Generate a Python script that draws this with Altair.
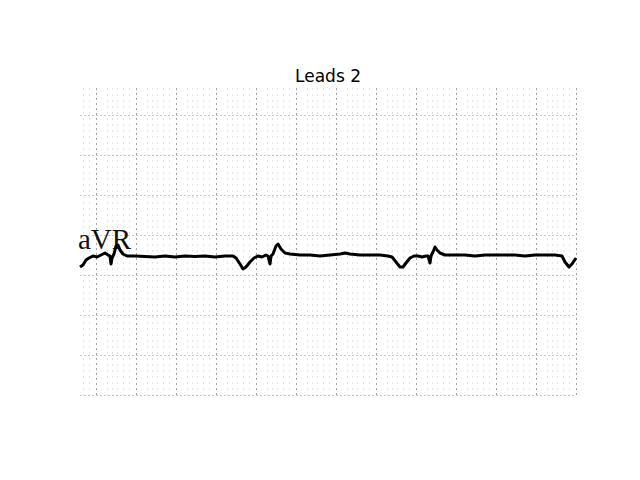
import altair as alt
import pandas as pd

# ECG trace (scan pixel coordinates: x to the right, y downward)
trace_x = [0, 3, 6, 9, 13, 17, 21, 25, 28, 30, 31, 32, 34, 36, 38, 40, 43, 47, 55, 65,
           75, 85, 95, 105, 115, 125, 135, 145, 153, 156, 160, 163, 166, 170, 174, 178,
           182, 186, 188, 190, 191, 193, 196, 198, 201, 205, 210, 220, 230, 240, 250,
           260, 265, 270, 280, 290, 300, 308, 312, 316, 320, 323, 326, 330, 334, 338,
           342, 346, 348, 350, 351, 353, 355, 357, 360, 365, 375, 385, 395, 405, 415,
           425, 435, 445, 455, 465, 475, 482, 485, 489, 492, 496]
trace_y = [179, 177, 172, 170, 168, 169, 167, 165, 167, 168, 176, 170, 166, 158, 157,
           162, 166, 168, 168, 168.5, 169, 168, 169, 168, 168.5, 168, 169, 168, 168,
           170, 176, 181, 179, 174, 170, 168, 169, 167, 168, 176, 168, 166, 158, 156,
           161, 165, 166, 167, 167, 168, 167, 166, 165, 166, 167, 167, 167, 168, 169,
           174, 179, 179, 175, 170, 168, 168, 169, 168, 168, 175, 168, 164, 159, 162,
           165, 167, 167, 167, 168, 167, 167, 167, 167, 168, 167, 167, 167, 168, 174,
           179, 176, 170]

# ECG paper grid (scan pixel coordinates)
major_x = [16, 56, 96, 136, 176, 216, 256, 296, 336, 376, 416, 456, 496]
major_y = [27, 67, 107, 147, 187, 227, 267, 307]
minor_x = [v for m in [-24] + major_x for v in (m + 11, m + 16, m + 21, m + 27, m + 33)
           if 0 <= v <= 496]

lead_label = ["aVR"]
label_x = [-2]
label_y = [161]

trace = pd.DataFrame({"x": trace_x, "y": trace_y})
labels = pd.DataFrame({"x": label_x, "y": label_y, "t": lead_label})

xscale = alt.Scale(domain=[0, 496], nice=False, zero=False)
yscale = alt.Scale(domain=[0, 307], nice=False, zero=False, reverse=True)

y_enc = alt.Y("y:Q", scale=yscale, title=None,
              axis=alt.Axis(values=major_y, grid=True, gridColor="#e07070",
                            gridDash=[1, 3], gridWidth=1, labels=False, ticks=False,
                            domain=False))

line = alt.Chart(trace).mark_line(color="black", strokeWidth=3, strokeJoin="round").encode(
    x=alt.X("x:Q", scale=xscale, title=None,
            axis=alt.Axis(values=minor_x, grid=True, gridColor="#d4c0c0",
                          gridDash=[1, 5], gridWidth=1, labels=False, ticks=False,
                          domain=False)),
    y=y_enc,
)

text = alt.Chart(labels).mark_text(font="Liberation Serif", fontSize=29, align="left",
                                   baseline="alphabetic", color="#111").encode(
    x=alt.X("x:Q", scale=xscale, title=None,
            axis=alt.Axis(values=major_x, grid=True, gridColor="#444444",
                          gridDash=[1, 4], gridWidth=1, labels=False, ticks=False,
                          domain=False, orient="top")),
    y=y_enc,
    text="t:N",
)

chart = alt.layer(text, line).resolve_axis(x="independent").properties(
    width=496, height=307,
    title=alt.Title("Leads 2", font="DejaVu Sans", fontSize=17, fontWeight="normal",
                    color="black", offset=2),
    autosize=alt.AutoSizeParams(type="none"),
    padding={"left": 80, "top": 88, "right": 64, "bottom": 85},
    background="white",
).configure_view(strokeWidth=0)

chart.save("out.html", embed_options={"renderer": "svg", "actions": False})
